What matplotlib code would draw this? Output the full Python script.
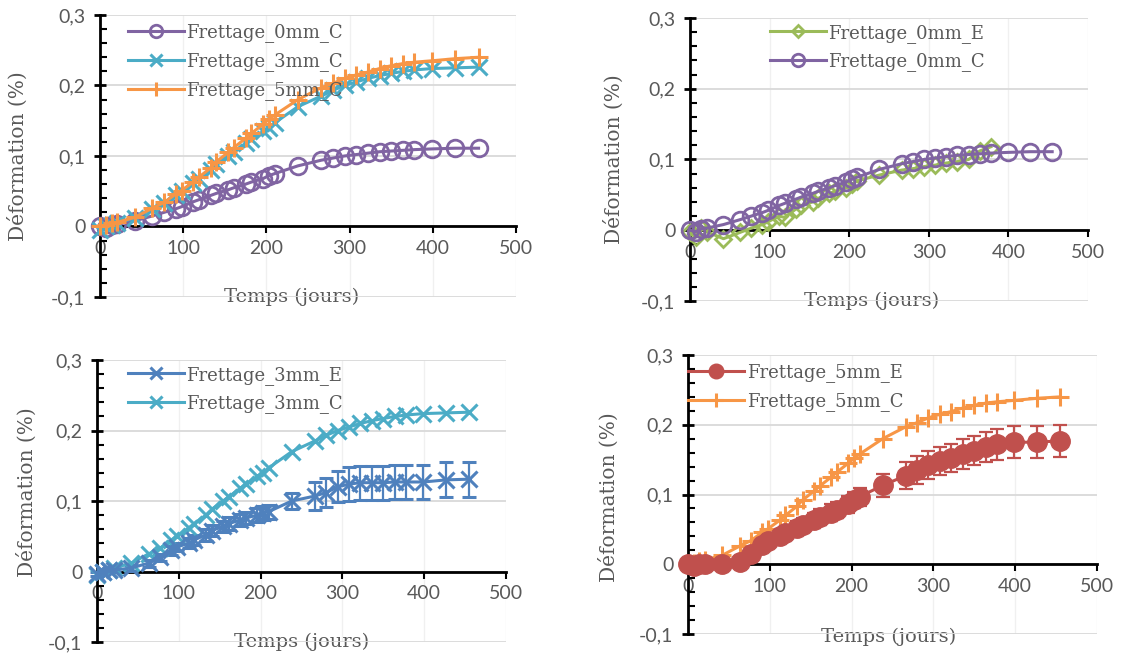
import matplotlib
matplotlib.use("Agg")
import matplotlib.pyplot as plt
from matplotlib.ticker import MultipleLocator

# measurement days
t = [0, 7, 14, 21, 42, 63, 77, 91, 98, 112, 119, 133, 140, 154, 161, 175, 182,
     196, 203, 210, 238, 266, 280, 294, 308, 322, 336, 350, 364, 378, 399, 427, 455]

f0_c = [0, -0.002, 0.002, 0.003, 0.008, 0.015, 0.02, 0.025, 0.028, 0.035, 0.038,
        0.044, 0.047, 0.052, 0.055, 0.06, 0.063, 0.068, 0.072, 0.075, 0.086, 0.094,
        0.097, 0.1, 0.102, 0.104, 0.106, 0.107, 0.108, 0.109, 0.11, 0.111, 0.111]
f0_e = [-0.003, -0.01, 0.003, -0.002, -0.012, -0.003, 0.003, 0.008, 0.012, 0.02,
        0.018, 0.03, 0.035, 0.04, 0.045, 0.052, 0.055, 0.06, 0.065, 0.07, 0.078,
        0.085, 0.087, 0.09, 0.092, 0.095, 0.097, 0.1, 0.112, 0.118]
f3_c = [-0.005, 0.0, 0.002, 0.005, 0.012, 0.025, 0.033, 0.045, 0.05, 0.062, 0.068,
        0.08, 0.088, 0.1, 0.106, 0.118, 0.124, 0.135, 0.14, 0.147, 0.17, 0.185,
        0.193, 0.2, 0.205, 0.21, 0.214, 0.217, 0.22, 0.222, 0.224, 0.225, 0.226]
f5_c = [0, 0.002, 0.005, 0.006, 0.013, 0.026, 0.034, 0.046, 0.051, 0.063, 0.07,
        0.083, 0.092, 0.105, 0.112, 0.125, 0.132, 0.145, 0.152, 0.158, 0.18, 0.197,
        0.203, 0.21, 0.215, 0.219, 0.224, 0.228, 0.231, 0.233, 0.235, 0.238, 0.24]
f3_e = [-0.003, 0.0, 0.002, 0.002, 0.005, 0.012, 0.02, 0.03, 0.035, 0.04, 0.045,
        0.052, 0.058, 0.064, 0.068, 0.073, 0.076, 0.08, 0.083, 0.085, 0.1, 0.107,
        0.112, 0.12, 0.124, 0.126, 0.126, 0.126, 0.127, 0.127, 0.127, 0.13, 0.131]
f3_e_err = [0.003, 0.003, 0.003, 0.003, 0.004, 0.005, 0.005, 0.006, 0.006, 0.007,
            0.007, 0.008, 0.008, 0.008, 0.009, 0.009, 0.009, 0.01, 0.01, 0.01, 0.012,
            0.02, 0.02, 0.022, 0.024, 0.024, 0.024, 0.024, 0.024, 0.024, 0.024, 0.025,
            0.025]
f5_e = [0, -0.002, 0.0, 0.001, 0.0, 0.003, 0.015, 0.028, 0.033, 0.04, 0.045, 0.052,
        0.057, 0.063, 0.068, 0.074, 0.078, 0.086, 0.092, 0.097, 0.113, 0.127, 0.135,
        0.142, 0.148, 0.152, 0.158, 0.163, 0.168, 0.172, 0.175, 0.175, 0.177]
f5_e_err = [0.003, 0.003, 0.003, 0.003, 0.004, 0.005, 0.006, 0.008, 0.008, 0.009,
            0.009, 0.01, 0.01, 0.011, 0.011, 0.012, 0.012, 0.012, 0.012, 0.013, 0.017,
            0.019, 0.02, 0.02, 0.02, 0.02, 0.021, 0.021, 0.022, 0.022, 0.023, 0.023,
            0.023]

yticks = [-0.1, 0, 0.1, 0.2, 0.3]
ytick_labels = ["-0,1", "0", "0,1", "0,2", "0,3"]
xticks = [0, 100, 200, 300, 400, 500]

PURPLE = "#8064A2"
CYAN = "#4BACC6"
ORANGE = "#F79646"
GREEN = "#9BBB59"
BLUE = "#4F81BD"
RED = "#C0504D"
GRAY = "#595959"
SERIF = "DejaVu Serif"


def style_axes(ax, ylab_x, ylab_y, xlab_x, xlab_y):
    ax.set_xlim(0, 500)
    ax.set_ylim(-0.1, 0.3)
    ax.spines["top"].set_visible(False)
    ax.spines["right"].set_visible(False)
    ax.spines["bottom"].set_position(("data", 0))
    for s in ("left", "bottom"):
        ax.spines[s].set_linewidth(2)
        ax.spines[s].set_color("black")
        ax.spines[s].set_zorder(2.5)
    ax.set_yticks(yticks)
    ax.set_yticklabels(ytick_labels)
    ax.set_xticks(xticks)
    ax.yaxis.set_minor_locator(MultipleLocator(0.02))
    ax.tick_params(axis="y", which="major", direction="inout", length=9, width=2,
                   color="black", labelsize=14, labelcolor=GRAY, pad=6)
    ax.tick_params(axis="y", which="minor", direction="in", length=5, width=1.5,
                   color="black")
    ax.tick_params(axis="x", which="major", direction="out", length=5, width=1.5,
                   color="black", labelsize=14, labelcolor=GRAY, pad=5)
    for lab in ax.get_xticklabels() + ax.get_yticklabels():
        lab.set_family("Lato")
    ax.grid(axis="y", color="#D9D9D9", linewidth=1.3)
    ax.grid(axis="x", color="#F0F0F0", linewidth=1.0)
    ax.set_axisbelow(True)
    ax.set_ylabel("Déformation (%)", family=SERIF, fontsize=14.5, color=GRAY)
    ax.yaxis.set_label_coords(ylab_x, ylab_y)
    ax.yaxis.label.set_va("center")
    ax.set_xlabel("Temps (jours)", family=SERIF, fontsize=14, color=GRAY)
    ax.xaxis.set_label_coords(xlab_x, xlab_y)
    ax.xaxis.label.set_va("center")


def add_legend(ax, handles, labels, x, y):
    leg = ax.legend(handles, labels, loc="upper left", bbox_to_anchor=(x, y),
                    frameon=False, borderaxespad=0, borderpad=0,
                    handlelength=3.1, handletextpad=0.15, labelspacing=0.55,
                    markerscale=0.75, prop={"family": SERIF, "size": 13})
    for txt in leg.get_texts():
        txt.set_color(GRAY)


fig = plt.figure(figsize=(11.22, 6.56), dpi=100)
ax1 = fig.add_axes([0.0891, 0.5473, 0.3708, 0.4299])
ax2 = fig.add_axes([0.6150, 0.5412, 0.3547, 0.4314])
ax3 = fig.add_axes([0.0865, 0.0213, 0.3645, 0.4299])
ax4 = fig.add_axes([0.6132, 0.0335, 0.3645, 0.4253])

kw = dict(linewidth=2.2, clip_on=False, zorder=3)

# top left
l0c, = ax1.plot(t, f0_c, color=PURPLE, marker="o", markersize=12, mfc="none",
                mew=2, **kw)
l3c, = ax1.plot(t, f3_c, color=CYAN, marker="x", markersize=11, mew=2.2, **kw)
l5c, = ax1.plot(t, f5_c, color=ORANGE, marker="+", markersize=13, mew=2.2, **kw)
style_axes(ax1, -0.197, 0.5, 0.46, 0.0)
add_legend(ax1, [l0c, l3c, l5c],
           ["Frettage_0mm_C", "Frettage_3mm_C", "Frettage_5mm_C"], 0.067, 0.97)

# top right
l0e, = ax2.plot(t[:len(f0_e)], f0_e, color=GREEN, marker="D", markersize=8,
                mfc="none", mew=2, **kw)
l0c2, = ax2.plot(t, f0_c, color=PURPLE, marker="o", markersize=12, mfc="none",
                 mew=2, **kw)
style_axes(ax2, -0.193, 0.5, 0.457, 0.0)
add_legend(ax2, [l0e, l0c2], ["Frettage_0mm_E", "Frettage_0mm_C"], 0.2, 0.98)

# bottom left
e3 = ax3.errorbar(t, f3_e, yerr=f3_e_err, color=BLUE, marker="x", markersize=11,
                  mew=2.2, capsize=5, elinewidth=1.6, capthick=1.6, **kw)
l3c2, = ax3.plot(t, f3_c, color=CYAN, marker="x", markersize=11, mew=2.2, **kw)
style_axes(ax3, -0.171, 0.53, 0.5, 0.0)
add_legend(ax3, [e3[0], l3c2], ["Frettage_3mm_E", "Frettage_3mm_C"], 0.075, 0.98)

# bottom right
e5 = ax4.errorbar(t, f5_e, yerr=f5_e_err, color=RED, marker="o", markersize=14,
                  capsize=5, elinewidth=1.6, capthick=1.6, **kw)
l5c2, = ax4.plot(t, f5_c, color=ORANGE, marker="+", markersize=13, mew=2.2, **kw)
style_axes(ax4, -0.193, 0.49, 0.49, -0.01)
add_legend(ax4, [e5[0], l5c2], ["Frettage_5mm_E", "Frettage_5mm_C"], 0.0, 0.97)

fig.savefig("out.png", dpi=100)
